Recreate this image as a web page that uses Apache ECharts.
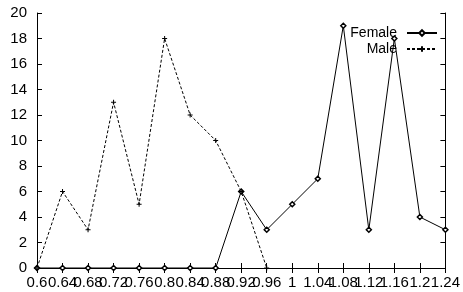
<!DOCTYPE html>
<html>
<head>
<meta charset="utf-8">
<script src="https://cdn.jsdelivr.net/npm/echarts@6/dist/echarts.min.js"></script>
<style>
  html, body { margin: 0; padding: 0; background: #fff; }
  #main { width: 463px; height: 292px; }
</style>
</head>
<body>
<div id="main"></div>
<script>
const categories = ["0.6", "0.64", "0.68", "0.72", "0.76", "0.8", "0.84", "0.88", "0.92", "0.96",
  "1", "1.04", "1.08", "1.12", "1.16", "1.2", "1.24"];
const female = [0, 0, 0, 0, 0, 0, 0, 0, 6, 3, 5, 7, 19, 3, 18, 4, 3];
const male = [0, 6, 3, 13, 5, 18, 12, 10, 6, 0, null, null, null, null, null, null, null];

const plusPath = "path://M5,0 L5,10 M0,5 L10,5";
const fontFamily = "Liberation Sans, Arial, sans-serif";

const chart = echarts.init(document.getElementById("main"));

const axisLine = { show: true, lineStyle: { color: "#000", width: 1 } };
const axisTick = { show: true, inside: true, length: 5, lineStyle: { color: "#000" } };

chart.setOption({
  animation: false,
  backgroundColor: "#fff",
  grid: { left: 37, right: 12, top: 13, bottom: 24 },
  legend: {
    orient: "vertical",
    right: 25,
    top: 25,
    padding: 0,
    align: "right",
    itemWidth: 30,
    itemHeight: 7,
    itemGap: 0,
    textStyle: { fontFamily: fontFamily, fontSize: 14, lineHeight: 16, color: "#000", padding: [0, 5, 0, 0] },
    data: ["Female", "Male"]
  },
  xAxis: [
    {
      type: "category",
      data: categories,
      boundaryGap: false,
      axisLine: axisLine,
      axisTick: Object.assign({ interval: 0 }, axisTick),
      axisLabel: { interval: 0, color: "#000", fontFamily: fontFamily, fontSize: 15, margin: 7, hideOverlap: false },
      splitLine: { show: false }
    },
    {
      type: "category",
      data: categories,
      boundaryGap: false,
      position: "top",
      axisLine: axisLine,
      axisTick: Object.assign({ interval: 0 }, axisTick),
      axisLabel: { show: false },
      splitLine: { show: false }
    }
  ],
  yAxis: [
    {
      type: "value",
      min: 0,
      max: 20,
      interval: 2,
      axisLine: axisLine,
      axisTick: axisTick,
      axisLabel: { color: "#000", fontFamily: fontFamily, fontSize: 15, margin: 10 },
      splitLine: { show: false }
    },
    {
      type: "value",
      min: 0,
      max: 20,
      interval: 2,
      position: "right",
      axisLine: axisLine,
      axisTick: axisTick,
      axisLabel: { show: false },
      splitLine: { show: false }
    }
  ],
  series: [
    {
      name: "Female",
      type: "line",
      data: female,
      symbol: "diamond",
      symbolSize: 5,
      showAllSymbol: true,
      lineStyle: { color: "#000", width: 1 },
      itemStyle: { color: "#fff", borderColor: "#000", borderWidth: 1.5 }
    },
    {
      name: "Male",
      type: "line",
      data: male,
      symbol: plusPath,
      symbolSize: 5,
      showAllSymbol: true,
      lineStyle: { color: "#000", width: 1, type: [3, 2] },
      itemStyle: { color: "#000", borderColor: "#000", borderWidth: 1 }
    }
  ]
});
</script>
</body>
</html>
